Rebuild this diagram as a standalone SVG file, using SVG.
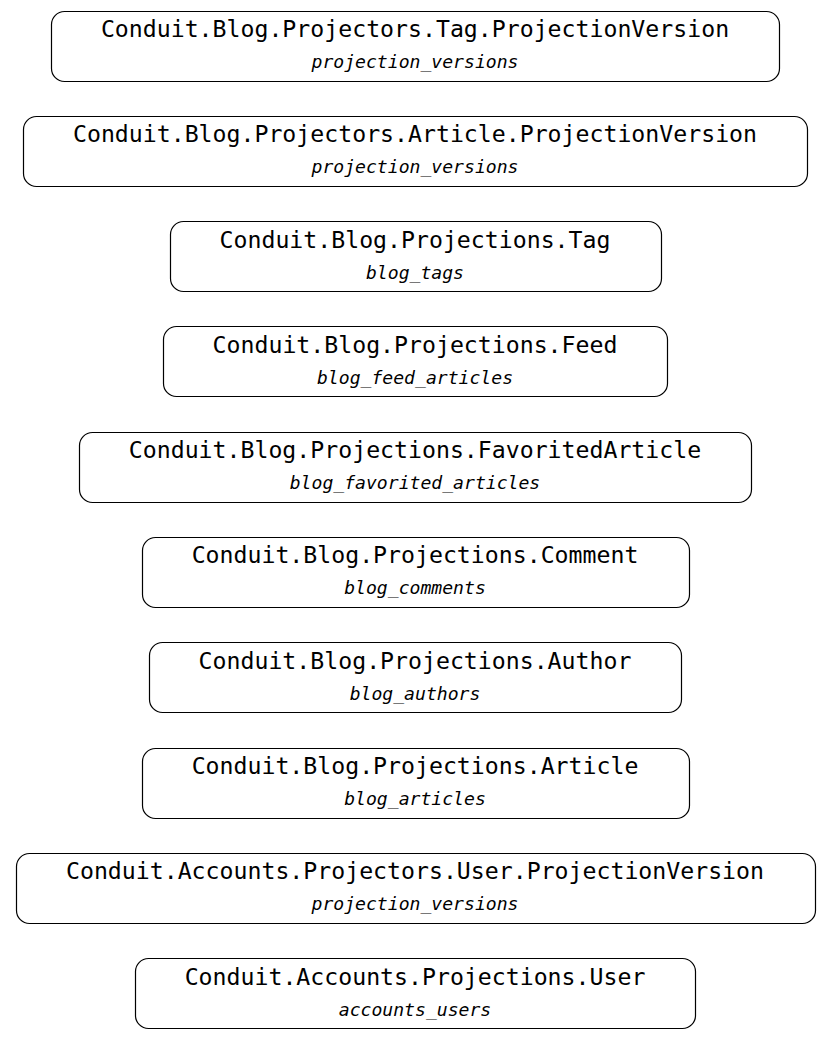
<svg xmlns="http://www.w3.org/2000/svg" width="831" height="1040" viewBox="0 0 831 1040">
<style>
rect.n{fill:#fff;stroke:#000;stroke-width:1.2}
text.t{font-family:"DejaVu Sans Mono","Liberation Mono",monospace;font-size:23.2px;text-anchor:middle;fill:#000}
text.s{font-family:"DejaVu Sans Mono","Liberation Mono",monospace;font-size:18.1px;font-style:italic;text-anchor:middle;fill:#000}
</style>
<rect width="831" height="1040" fill="#fff"/>
<g id="connectors"></g>
<g id="n1"><rect class="n" x="51.5" y="11.5" width="728" height="70" rx="13"/><text class="t" x="415" y="37">Conduit.Blog.Projectors.Tag.ProjectionVersion</text><text class="s" x="415" y="68">projection_versions</text></g>
<g id="n2"><rect class="n" x="23.5" y="116.5" width="784" height="70" rx="13"/><text class="t" x="415" y="142">Conduit.Blog.Projectors.Article.ProjectionVersion</text><text class="s" x="415" y="173">projection_versions</text></g>
<g id="n3"><rect class="n" x="170.5" y="221.5" width="491" height="70" rx="13"/><text class="t" x="415" y="248">Conduit.Blog.Projections.Tag</text><text class="s" x="415" y="279">blog_tags</text></g>
<g id="n4"><rect class="n" x="163.5" y="326.5" width="504" height="70" rx="13"/><text class="t" x="415" y="353">Conduit.Blog.Projections.Feed</text><text class="s" x="415" y="384">blog_feed_articles</text></g>
<g id="n5"><rect class="n" x="79.5" y="432.5" width="672" height="70" rx="13"/><text class="t" x="415" y="458">Conduit.Blog.Projections.FavoritedArticle</text><text class="s" x="415" y="489">blog_favorited_articles</text></g>
<g id="n6"><rect class="n" x="142.5" y="537.5" width="547" height="70" rx="13"/><text class="t" x="415" y="563">Conduit.Blog.Projections.Comment</text><text class="s" x="415" y="594">blog_comments</text></g>
<g id="n7"><rect class="n" x="149.5" y="642.5" width="532" height="70" rx="13"/><text class="t" x="415" y="669">Conduit.Blog.Projections.Author</text><text class="s" x="415" y="700">blog_authors</text></g>
<g id="n8"><rect class="n" x="142.5" y="748.5" width="547" height="70" rx="13"/><text class="t" x="415" y="774">Conduit.Blog.Projections.Article</text><text class="s" x="415" y="805">blog_articles</text></g>
<g id="n9"><rect class="n" x="16.5" y="853.5" width="799" height="70" rx="13"/><text class="t" x="415" y="879">Conduit.Accounts.Projectors.User.ProjectionVersion</text><text class="s" x="415" y="910">projection_versions</text></g>
<g id="n10"><rect class="n" x="135.5" y="958.5" width="560" height="70" rx="13"/><text class="t" x="415" y="985">Conduit.Accounts.Projections.User</text><text class="s" x="415" y="1016">accounts_users</text></g>
</svg>
